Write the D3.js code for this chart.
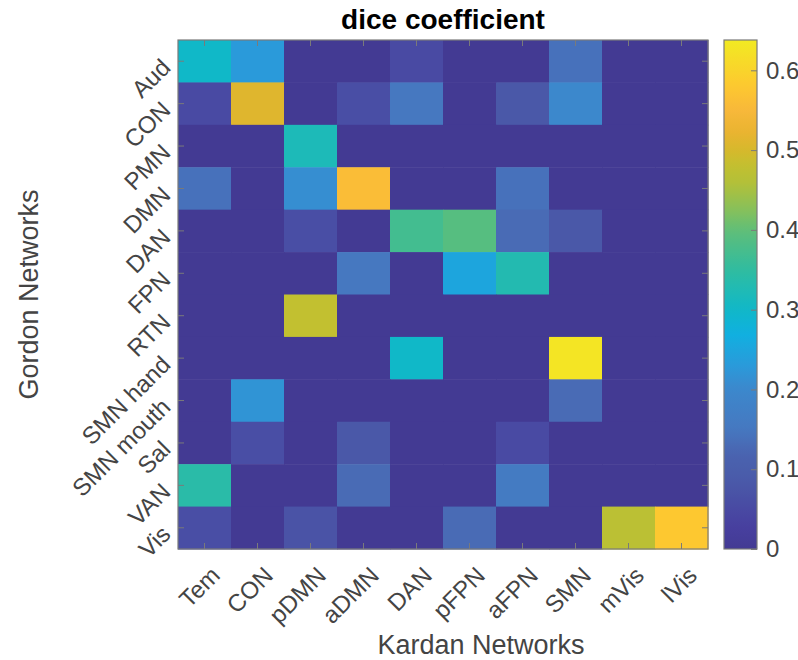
<!doctype html>
<html lang="en">
<head>
<meta charset="utf-8">
<title>dice coefficient</title>
<script src="https://cdn.jsdelivr.net/npm/d3@7"></script>
<style>
  body { margin: 0; background: #fff; }
  text { font-family: "Liberation Sans", Arial, Helvetica, sans-serif; }
</style>
</head>
<body>
<script>
// columns (Kardan) and rows (Gordon)
var kardan = ["Tem", "CON", "pDMN", "aDMN", "DAN", "pFPN", "aFPN", "SMN", "mVis", "lVis"];
var gordon = ["Aud", "CON", "PMN", "DMN", "DAN", "FPN", "RTN", "SMN hand", "SMN mouth", "Sal", "VAN", "Vis"];

// dice values, one row per Gordon network
var dice = [
  [0.30, 0.23, 0,    0,    0.05, 0,    0,    0.14, 0,    0   ],
  [0.05, 0.51, 0,    0.06, 0.15, 0,    0.08, 0.20, 0,    0   ],
  [0,    0,    0.32, 0,    0,    0,    0,    0,    0,    0   ],
  [0.14, 0,    0.21, 0.56, 0,    0,    0.14, 0,    0,    0   ],
  [0,    0,    0.06, 0,    0.37, 0.39, 0.13, 0.08, 0,    0   ],
  [0,    0,    0,    0.15, 0,    0.25, 0.33, 0,    0,    0   ],
  [0,    0,    0.48, 0,    0,    0,    0,    0,    0,    0   ],
  [0,    0,    0,    0,    0.30, 0,    0,    0.63, 0,    0   ],
  [0,    0.22, 0,    0,    0,    0,    0,    0.13, 0,    0   ],
  [0,    0.06, 0,    0.08, 0,    0,    0.05, 0,    0,    0   ],
  [0.34, 0,    0,    0.13, 0,    0,    0.16, 0,    0,    0   ],
  [0.06, 0,    0.07, 0,    0,    0.13, 0,    0,    0.47, 0.58]
];

var cbTicks = [0, 0.1, 0.2, 0.3, 0.4, 0.5, 0.6];
var cMax = 0.638;

// parula-like colormap as it appears in the picture
var cmapStops = [0, 0.03, 0.08, 0.12, 0.15, 0.2, 0.23, 0.27, 0.3, 0.35, 0.4, 0.42,
                 0.46, 0.48, 0.5, 0.52, 0.55, 0.58, 0.638];
var cmapColors = ["#433a93", "#4840a0", "#4a58a8", "#4a64b0", "#4678c0", "#3c88cc", "#2a9ada", "#10b0e0",
                  "#10b8c8", "#30bca0", "#60be78", "#80c060",
                  "#b4c038", "#c2c030", "#d6b82c", "#e8b430", "#f8b83a", "#fdc830", "#f2ea22"];

var W = 798, H = 660;
var plot = {left: 178, right: 708, top: 40, bottom: 549};
var cb = {left: 724, right: 757};
var axisGray = "#7a7a7a";
var textGray = "#444";
var tickFont = "24px";
var labelFont = "27px";

var color = d3.scaleLinear().domain(cmapStops).range(cmapColors).clamp(true);

var x = d3.scaleBand().domain(kardan).range([plot.left, plot.right]);
var y = d3.scaleBand().domain(gordon).range([plot.top, plot.bottom]);

var svg = d3.select("body").append("svg")
            .attr("width", W)
            .attr("height", H);

var cells = [];
dice.forEach(function(row, i) {
  row.forEach(function(v, j) {
    cells.push({r: gordon[i], c: kardan[j], v: v});
  });
});

svg.append("g")
   .selectAll("rect")
   .data(cells)
   .enter()
   .append("rect")
   .attr("x", d => x(d.c))
   .attr("y", d => y(d.r))
   .attr("width", x.bandwidth() + 0.5)
   .attr("height", y.bandwidth() + 0.5)
   .attr("fill", d => color(d.v));

// axes with inward ticks
var gx = svg.append("g")
            .attr("transform", "translate(0," + plot.bottom + ")")
            .call(d3.axisBottom(x).tickSize(-6));
gx.selectAll("text")
  .attr("x", 11).attr("y", 22).attr("dy", "0.35em")
  .attr("text-anchor", "end")
  .attr("transform", "rotate(-45,11,22)");

svg.append("g")
   .attr("transform", "translate(0," + plot.top + ")")
   .call(d3.axisTop(x).tickSize(-6).tickFormat(""));

var gy = svg.append("g")
            .attr("transform", "translate(" + plot.left + ",0)")
            .call(d3.axisLeft(y).tickSize(-6));
gy.selectAll("text")
  .attr("x", -12).attr("y", 2).attr("dy", "0.35em")
  .attr("text-anchor", "end")
  .attr("transform", "rotate(-45,-12,2)");

svg.append("g")
   .attr("transform", "translate(" + plot.right + ",0)")
   .call(d3.axisRight(y).tickSize(-6).tickFormat(""));

svg.selectAll(".domain").remove();
svg.selectAll(".tick line").attr("stroke", axisGray);
svg.selectAll(".tick text")
   .attr("font-size", tickFont)
   .attr("fill", textGray)
   .attr("font-family", "Liberation Sans, Arial, sans-serif");

svg.append("rect")
   .attr("x", plot.left).attr("y", plot.top)
   .attr("width", plot.right - plot.left)
   .attr("height", plot.bottom - plot.top)
   .attr("fill", "none")
   .attr("stroke", axisGray)
   .attr("stroke-width", 1.2);

// colorbar
var cy = d3.scaleLinear().domain([0, cMax]).range([plot.bottom, plot.top]);
var grad = svg.append("defs").append("linearGradient")
              .attr("id", "cbgrad")
              .attr("x1", 0).attr("y1", 1).attr("x2", 0).attr("y2", 0);
d3.range(0, 1.0001, 0.02).forEach(function(t) {
  grad.append("stop")
      .attr("offset", t)
      .attr("stop-color", color(t * cMax));
});

svg.append("rect")
   .attr("x", cb.left).attr("y", plot.top)
   .attr("width", cb.right - cb.left)
   .attr("height", plot.bottom - plot.top)
   .attr("fill", "url(#cbgrad)")
   .attr("stroke", axisGray)
   .attr("stroke-width", 1.2);

var gc = svg.append("g")
            .attr("transform", "translate(" + cb.right + ",0)")
            .call(d3.axisRight(cy).tickValues(cbTicks).tickSize(-6).tickPadding(9)
                    .tickFormat(d => d === 0 ? "0" : d3.format(".1f")(d)));
gc.select(".domain").remove();
gc.selectAll(".tick line").attr("stroke", axisGray);
gc.selectAll(".tick text")
  .attr("font-size", tickFont)
  .attr("fill", textGray)
  .attr("font-family", "Liberation Sans, Arial, sans-serif");

// titles
svg.append("text")
   .attr("x", (plot.left + plot.right) / 2)
   .attr("y", 29)
   .attr("text-anchor", "middle")
   .attr("font-size", "28px")
   .attr("font-weight", "bold")
   .attr("fill", "#000")
   .text("dice coefficient");

svg.append("text")
   .attr("x", 481)
   .attr("y", 654)
   .attr("text-anchor", "middle")
   .attr("font-size", labelFont)
   .attr("fill", textGray)
   .text("Kardan Networks");

svg.append("text")
   .attr("transform", "translate(38," + (plot.top + plot.bottom) / 2 + ") rotate(-90)")
   .attr("text-anchor", "middle")
   .attr("font-size", labelFont)
   .attr("fill", textGray)
   .text("Gordon Networks");
</script>
</body>
</html>
